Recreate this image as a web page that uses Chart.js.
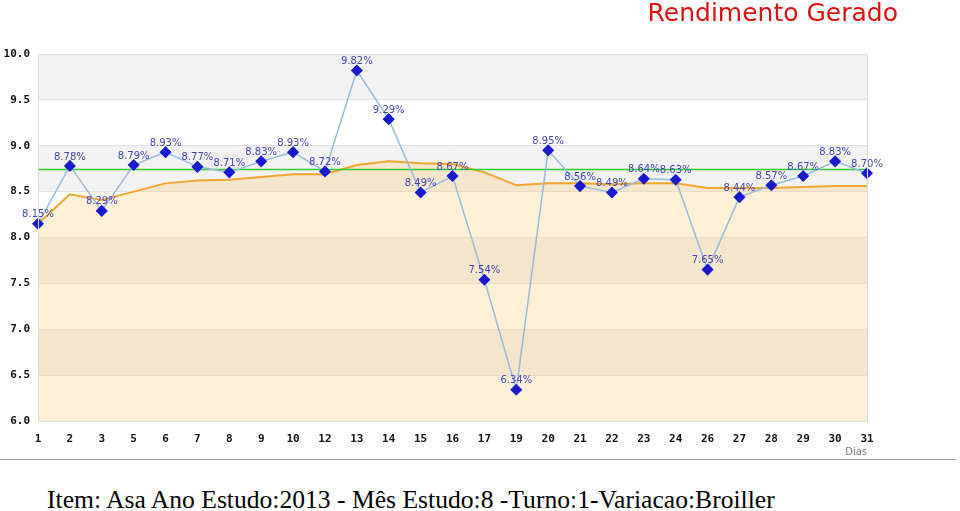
<!DOCTYPE html>
<html>
<head>
<meta charset="utf-8">
<script src="https://cdn.jsdelivr.net/npm/chart.js@4/dist/chart.umd.min.js"></script>
<style>
  body { margin: 0; background: #fff; width: 960px; height: 511px; overflow: hidden; position: relative; }
  #wrap { position: absolute; left: 0; top: 0; width: 960px; height: 460px; }
  #title { position: absolute; right: 62px; top: -1px; font: 25px "DejaVu Sans"; color: #dd1111; line-height: 28px; }
  #rule { position: absolute; left: 0; top: 459px; width: 956px; border-top: 1px solid #a0a0a0; }
  #info { position: absolute; left: 47px; top: 487px; font: 25.6px "Liberation Serif"; line-height: 26px; color: #000; white-space: nowrap; }
</style>
</head>
<body>
<div id="wrap"><canvas id="chart"></canvas></div>
<div id="title">Rendimento Gerado</div>
<div id="rule"></div>
<div id="info">Item: Asa Ano Estudo:2013 - Mês Estudo:8 -Turno:1-Variacao:Broiller</div>
<script>
// -- DATA -- //
const days = ['1','2','3','5','6','7','8','9','10','12','13','14','15','16','17','19','20','21','22','23','24','26','27','28','29','30','31']
const rendimento = [8.15, 8.78, 8.29, 8.79, 8.93, 8.77, 8.71, 8.83, 8.93, 8.72, 9.82, 9.29, 8.49, 8.67, 7.54, 6.34, 8.95, 8.56, 8.49, 8.64, 8.63, 7.65, 8.44, 8.57, 8.67, 8.83, 8.70]
const media = [8.15, 8.47, 8.41, 8.50, 8.59, 8.62, 8.63, 8.66, 8.69, 8.69, 8.79, 8.83, 8.81, 8.80, 8.71, 8.57, 8.59, 8.59, 8.58, 8.59, 8.59, 8.54, 8.54, 8.54, 8.55, 8.56, 8.56]
const meta = [8.74, 8.74, 8.74, 8.74, 8.74, 8.74, 8.74, 8.74, 8.74, 8.74, 8.74, 8.74, 8.74, 8.74, 8.74, 8.74, 8.74, 8.74, 8.74, 8.74, 8.74, 8.74, 8.74, 8.74, 8.74, 8.74, 8.74]
const yTicks = [6.0, 6.5, 7.0, 7.5, 8.0, 8.5, 9.0, 9.5, 10.0]

// alternating horizontal bands behind the plot
const bandsPlugin = {
  id: 'bands',
  beforeDraw(chart) {
    const { ctx, chartArea, scales } = chart
    ctx.save()
    for (let i = 0; i < yTicks.length - 1; i++) {
      const top = scales.y.getPixelForValue(yTicks[i + 1])
      const bottom = scales.y.getPixelForValue(yTicks[i])
      ctx.fillStyle = (i % 2 === 0) ? '#ffffff' : '#f2f2f2'
      ctx.fillRect(chartArea.left, top, chartArea.right - chartArea.left, bottom - top)
    }
    ctx.restore()
  },
  afterDraw(chart) {
    const { ctx, chartArea } = chart
    ctx.save()
    ctx.strokeStyle = '#dcdcdc'
    ctx.lineWidth = 1
    ctx.strokeRect(chartArea.left + 0.5, chartArea.top + 0.5, chartArea.right - chartArea.left, chartArea.bottom - chartArea.top)
    ctx.fillStyle = '#777777'
    ctx.font = '10px "DejaVu Sans"'
    ctx.textAlign = 'right'
    ctx.textBaseline = 'middle'
    ctx.fillText('Dias', chartArea.right, 452)
    ctx.restore()
  }
}

// percent labels above the blue points
const labelsPlugin = {
  id: 'pctLabels',
  afterDatasetsDraw(chart) {
    const { ctx } = chart
    const pts = chart.getDatasetMeta(2).data
    ctx.save()
    ctx.font = '10px "DejaVu Sans"'
    ctx.fillStyle = '#4545b5'
    ctx.textAlign = 'center'
    ctx.textBaseline = 'bottom'
    pts.forEach((p, i) => {
      ctx.fillText(rendimento[i].toFixed(2) + '%', p.x, p.y - 4)
    })
    ctx.restore()
  }
}

new Chart(document.getElementById('chart'), {
  type: 'line',
  data: {
    labels: days,
    datasets: [
      {
        label: 'Meta',
        data: meta,
        borderColor: '#33cc33',
        borderWidth: 1.5,
        pointRadius: 0,
        fill: false,
        order: 2
      },
      {
        label: 'Media',
        data: media,
        borderColor: '#f0a630',
        borderWidth: 2,
        backgroundColor: 'rgba(250,200,110,0.28)',
        pointRadius: 0,
        fill: 'start',
        tension: 0,
        order: 3
      },
      {
        label: 'Rendimento',
        data: rendimento,
        borderColor: '#98bbdc',
        borderWidth: 1.5,
        pointStyle: 'rectRot',
        pointRadius: 5,
        pointBackgroundColor: '#1a1acc',
        pointBorderColor: '#1a1acc',
        fill: false,
        order: 1
      }
    ]
  },
  options: {
    responsive: true,
    maintainAspectRatio: false,
    animation: false,
    layout: { padding: { top: 54, right: 93, bottom: 0, left: 0 } },
    plugins: {
      legend: { display: false },
      tooltip: { enabled: false },
      title: { display: false }
    },
    scales: {
      x: {
        offset: false,
        grid: { display: false },
        border: { display: false },
        ticks: {
          padding: 4,
          color: '#111',
          font: { family: 'DejaVu Sans Mono', size: 11, weight: 'bold' },
          autoSkip: false,
          maxRotation: 0
        },
        afterFit(scale) { scale.height = 39 }
      },
      y: {
        min: 6,
        max: 10,
        grid: { color: '#e2e2e2', drawTicks: false },
        border: { display: false },
        ticks: {
          stepSize: 0.5,
          padding: 8,
          color: '#111',
          font: { family: 'DejaVu Sans Mono', size: 11, weight: 'bold' },
          callback: v => Number(v).toFixed(1)
        },
        afterFit(scale) { scale.width = 38 }
      }
    }
  },
  plugins: [bandsPlugin, labelsPlugin]
})
</script>
</body>
</html>
